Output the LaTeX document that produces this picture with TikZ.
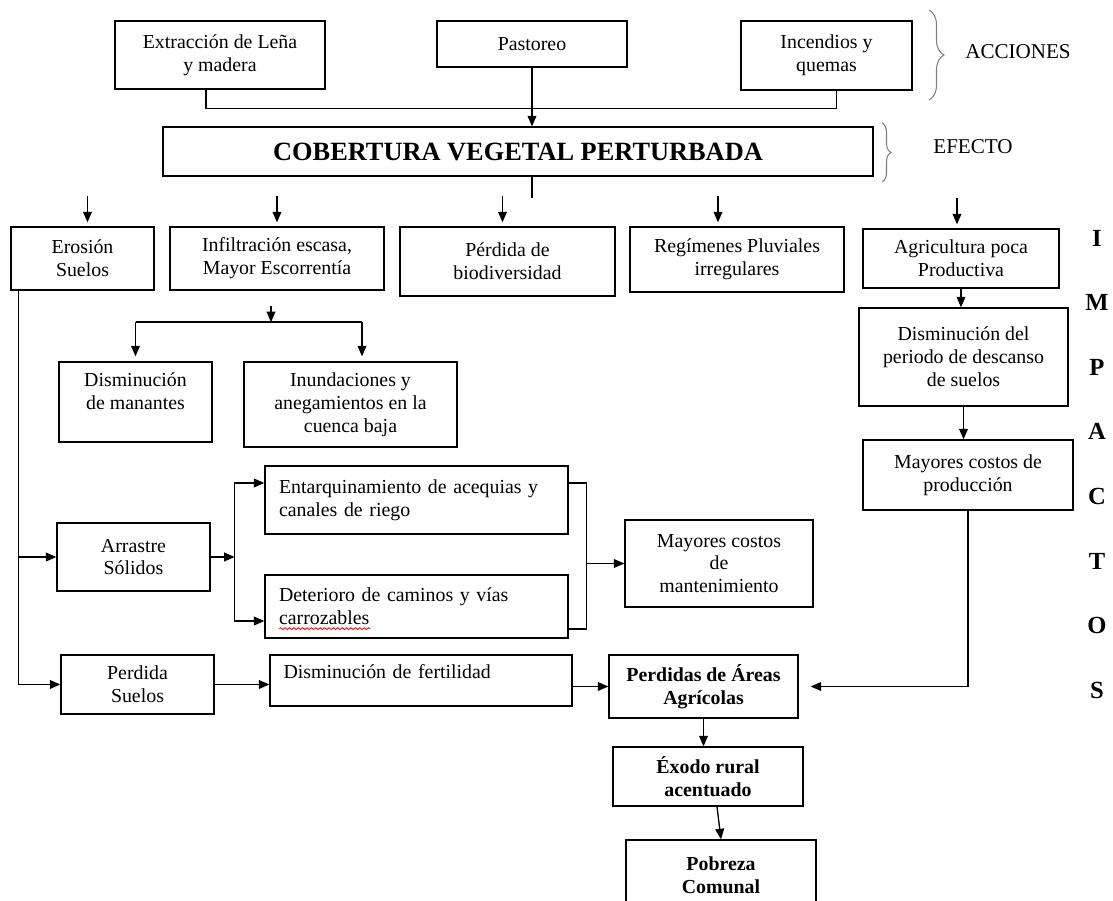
\documentclass[tikz,border=0pt]{standalone}
\usepackage{fontspec}
\setmainfont{Liberation Serif}
\usetikzlibrary{arrows.meta,decorations.pathreplacing,decorations.pathmorphing}
\tikzset{
	caja/.style={draw, line width=0.75pt, align=center, inner sep=2pt, font=\fontsize{11.3}{13}\selectfont},
	cajaizq/.style={caja, align=left, text width=5.5cm},
	negrita/.style={caja, font=\fontsize{11.3}{13}\selectfont\bfseries},
	flecha/.style={line width=0.75pt, -{Triangle[length=6pt,width=5pt]}},
	linea/.style={line width=0.75pt},
	llave/.style={decorate, draw=gray, line width=0.6pt, decoration={brace, amplitude=#1}},
	llave/.default=0.3cm,
	rotulo/.style={font=\fontsize{12}{14}\selectfont},
}
\begin{document}
\begin{tikzpicture}[x=0.02cm, y=-0.02cm]
	%%%%% START %%%%%
	\useasboundingbox (0,0) rectangle (1113,901);
	\clip (0,0) rectangle (1113,901);
	
	% acciones
	\node[caja, minimum width=4.2cm, minimum height=1.36cm] (ext) at (220,55) {Extracción de Leña\\y madera};
	\node[caja, minimum width=3.8cm, minimum height=0.92cm] (past) at (532,44) {Pastoreo};
	\node[caja, minimum width=3.42cm, minimum height=1.38cm] (inc) at (826.5,55.5) {Incendios y\\quemas};
	\node[caja, minimum width=14.2cm, minimum height=0.98cm, font=\fontsize{15}{18}\selectfont\bfseries] (cob) at (518,151.5) {COBERTURA VEGETAL PERTURBADA};
	
	\draw[linea] ([xshift=-0.28cm]ext.south) -- ++(0,19) -| ([xshift=0.2cm]inc.south);
	\draw[flecha] (past.south) -- (past.south |- cob.north);
	\draw[linea] (past.south |- cob.south) -- ++(0,21);
	
	\node[rotulo] (acc) at (1018,52) {ACCIONES};
	\draw[llave=0.3cm] (929,10) -- (929,100);
	\node[rotulo] (efe) at (973,147) {EFECTO};
	\draw[llave=0.18cm] (882,123) -- (882,182);
	
	% impactos
	\node[caja, minimum width=2.86cm, minimum height=1.26cm] (ero) at (82.5,258.5) {Erosión\\Suelos};
	\node[caja, minimum width=4.28cm, minimum height=1.26cm] (inf) at (277,258.5) {Infiltración escasa,\\Mayor Escorrentía};
	\node[caja, minimum width=4.3cm, minimum height=1.38cm] (per) at (507.5,261.5) {Pérdida de\\biodiversidad};
	\node[caja, minimum width=4.28cm, minimum height=1.3cm] (reg) at (737,259.5) {Regímenes Pluviales\\irregulares};
	\node[caja, minimum width=3.92cm, minimum height=1.18cm] (agr) at (961,258.5) {Agricultura poca\\Productiva};
	
	\foreach \n/\dx in {ero/5,inf/0,per/-5,reg/-19,agr/-4}
		\draw[flecha] ([xshift=\dx*0.02cm, yshift=0.6cm]\n.north) -- ([xshift=\dx*0.02cm, yshift=0.08cm]\n.north);
	
	\node[caja, minimum width=4.18cm, minimum height=1.96cm] (dpd) at (963.5,357) {Disminución del\\periodo de descanso\\de suelos};
	\node[caja, minimum width=4.2cm, minimum height=1.4cm] (mcp) at (968,475) {Mayores costos de\\producción};
	\draw[flecha] (agr.south) -- (agr.south |- dpd.north);
	\draw[flecha] (dpd.south) -- (dpd.south |- mcp.north);
	
	\node[caja, minimum width=3.06cm, minimum height=1.6cm, text depth=12pt] (man) at (135.5,402) {Disminución\\de manantes};
	\node[caja, minimum width=4.26cm, minimum height=1.7cm] (inu) at (350.5,404.5) {Inundaciones y\\anegamientos en la\\cuenca baja};
	
	\coordinate (infsal) at ([xshift=-0.12cm, yshift=-0.3cm]inf.south);
	\coordinate (infdiv) at ([yshift=-0.33cm]infsal);
	\draw[flecha] (infsal) -- (infdiv);
	\draw[linea] (infdiv -| man.north) -- ([xshift=0.23cm]infdiv -| inu.north);
	\draw[flecha] (infdiv -| man.north) -- ([yshift=0.1cm]man.north);
	\draw[flecha] ([xshift=0.23cm]infdiv -| inu.north) -- ([xshift=0.23cm, yshift=0.1cm]inu.north);
	
	% arrastre y perdida de suelos
	\node[caja, minimum width=3.06cm, minimum height=1.36cm] (arrastre) at (133.5,557) {Arrastre\\Sólidos};
	\node[cajaizq, minimum width=6.06cm, minimum height=1.36cm] (ent) at (416.5,500) {Entarquinamiento de acequias y\\canales de riego};
	\node[cajaizq, minimum width=6.06cm, minimum height=1.26cm] (det) at (416.5,606.5) {Deterioro de caminos y vías\\carrozables};
	\draw[red, line width=0.5pt, decorate, decoration={snake, amplitude=0.5pt, segment length=2.5pt}] ([shift={(0.3cm,0.2cm)}]det.south west) -- ++(91,0);
	\node[caja, minimum width=3.76cm, minimum height=1.74cm] (mcm) at (719,563.5) {Mayores costos\\de\\mantenimiento};
	
	\coordinate (tronco) at ([xshift=0.16cm]ero.south west);
	\coordinate (arrdiv) at ([xshift=0.48cm]arrastre.east);
	\coordinate (entbr) at ([xshift=0.36cm, yshift=0.34cm]ent.east);
	\draw[flecha] (tronco |- arrastre.west) -- (arrastre.west);
	\draw[flecha] (arrastre.east) -- (arrdiv);
	\draw[flecha] (arrdiv) |- ([yshift=0.34cm]ent.west);
	\draw[flecha] (arrdiv) |- ([yshift=-0.29cm]det.west);
	\draw[linea] ([yshift=0.34cm]ent.east) -- (entbr) |- ([yshift=-0.45cm]det.east);
	\draw[flecha] (entbr |- mcm.west) -- (mcm.west);
	
	\node[caja, minimum width=3.06cm, minimum height=1.18cm] (pes) at (137.5,684.5) {Perdida\\Suelos};
	\node[cajaizq, minimum width=6.04cm, minimum height=1.02cm, text depth=10pt] (dfe) at (421,680.5) {Disminución de fertilidad};
	\node[negrita, minimum width=3.78cm, minimum height=1.26cm] (paa) at (703.5,686.5) {Perdidas de Áreas\\Agrícolas};
	\node[negrita, minimum width=3.8cm, minimum height=1.18cm] (exo) at (708,776.5) {Éxodo rural\\acentuado};
	\node[negrita, minimum width=3.8cm, minimum height=1.4cm] (pob) at (721,875) {Pobreza\\Comunal};
	
	\draw[flecha] (tronco) |- (pes.west);
	\draw[flecha] (pes.east) -- (pes.east -| dfe.west);
	\draw[flecha] (dfe.east |- paa.west) -- (paa.west);
	\draw[flecha, shorten >=0.24cm] (mcp.south) |- (paa.east);
	\draw[flecha] (paa.south) -- (paa.south |- exo.north);
	\draw[flecha] ([xshift=0.18cm]exo.south) -- (pob.north);
	
	% rotulo vertical
	\foreach \l [count=\i from 0] in {I,M,P,A,C,T,O,S}
		\node[font=\fontsize{14}{16}\selectfont\bfseries] (imp\i) at (1097,238+64.6*\i) {\l};
	
	%%%%% END %%%%%
\end{tikzpicture}
\end{document}
